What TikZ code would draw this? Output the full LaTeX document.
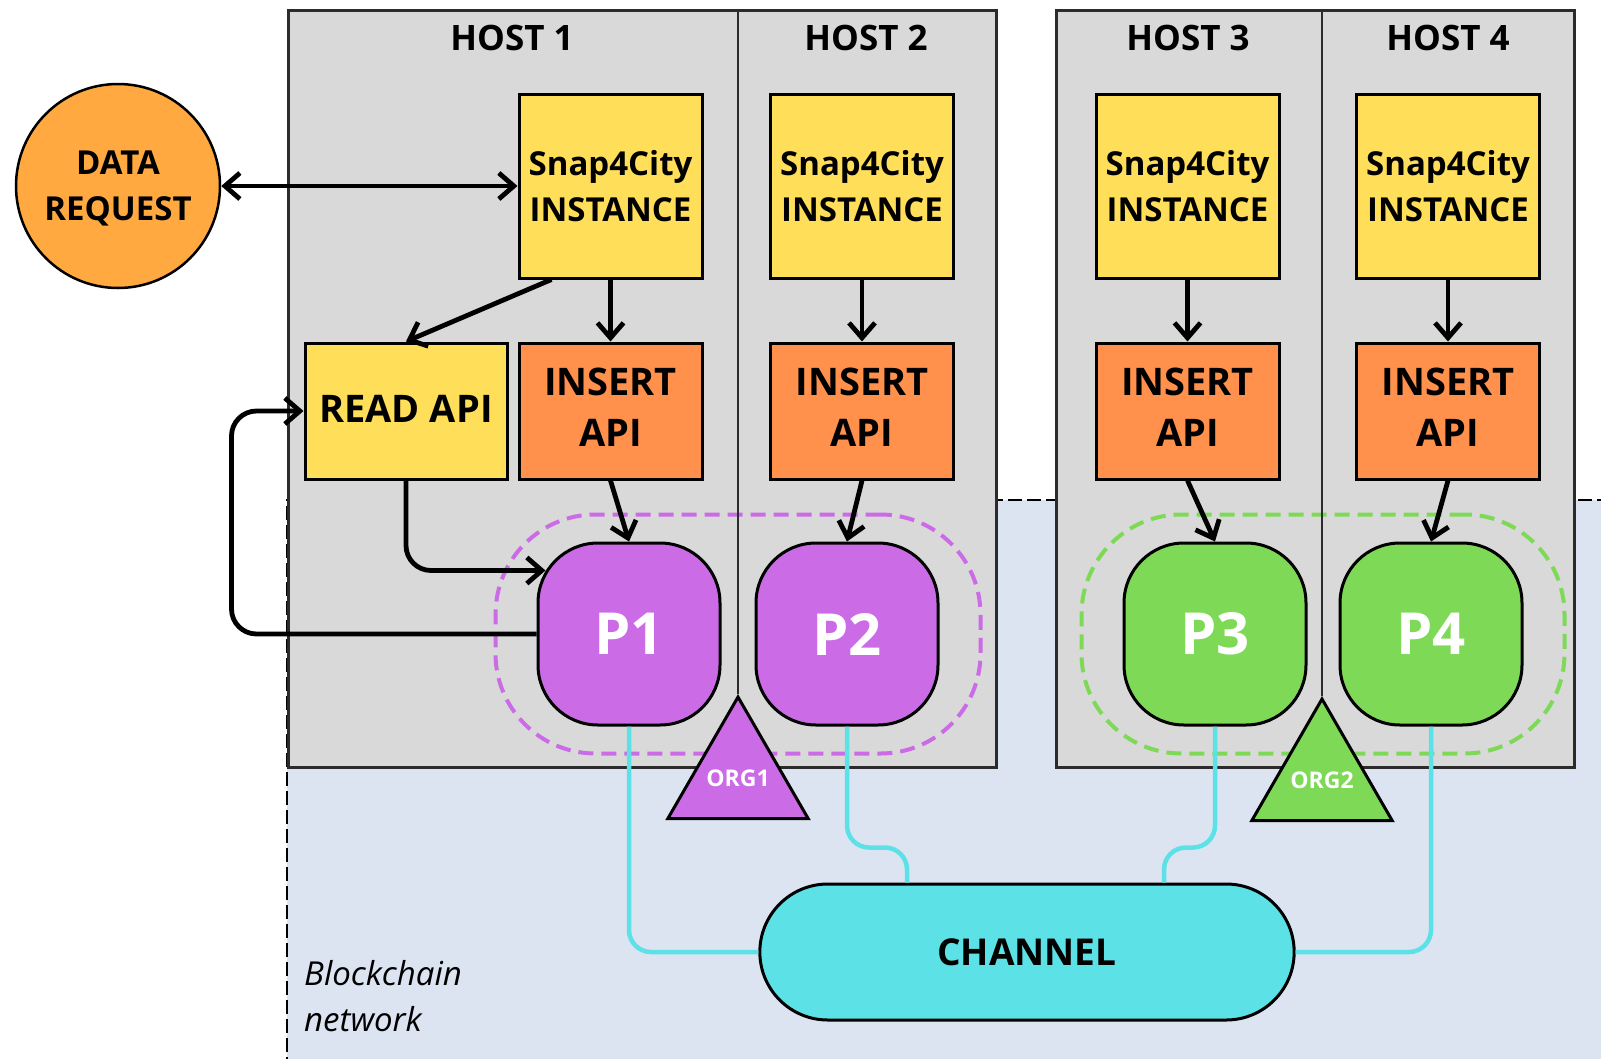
\documentclass[tikz,border=0pt]{standalone}
\usepackage{fontspec}
\setmainfont{Open Sans}
\usepackage{tikz}
\usetikzlibrary{positioning,fit,arrows.meta,shapes.geometric,shapes.misc,calc}
\definecolor{hostgray}{HTML}{D9D9D9}
\definecolor{netblue}{HTML}{DCE4F2}
\definecolor{snapyellow}{HTML}{FFDE59}
\definecolor{apiorange}{HTML}{FF914D}
\definecolor{reqorange}{HTML}{FFA940}
\definecolor{orgpurple}{HTML}{CB6CE6}
\definecolor{orggreen}{HTML}{7ED957}
\definecolor{chancyan}{HTML}{5CE1E6}
\definecolor{edgegray}{HTML}{2B2B2B}
\newcommand{\orgtext}[1]{\smash{\raisebox{-0.36em}{\makebox[0pt]{#1}}}}

\begin{document}
\begin{tikzpicture}[
    x=1pt, y=-1pt,
    font=\bfseries,
    box/.style={rectangle, draw=black, line width=3pt, align=center, inner sep=0pt, minimum width=183pt},
    snapbox/.style={box, fill=snapyellow, minimum height=184pt, font=\bfseries\fontsize{33}{46}\selectfont},
    apibox/.style={box, fill=apiorange, minimum height=136pt, text depth=8pt, font=\bfseries\fontsize{38}{51}\selectfont},
    readbox/.style={apibox, fill=snapyellow, minimum width=202pt, text depth=4pt},
    reqnode/.style={circle, draw=black, line width=2.5pt, fill=reqorange, minimum size=204pt, inner sep=0pt, align=center, text depth=0pt, font=\bfseries\fontsize{33}{46}\selectfont},
    peer/.style={rectangle, draw=black, line width=3pt, rounded corners=60pt, minimum size=182pt, text=white, font=\bfseries\fontsize{58}{60}\selectfont},
    org/.style={regular polygon, regular polygon sides=3, draw=black, line width=3pt, minimum size=162pt, inner sep=0pt, text=white, font=\bfseries\fontsize{23}{25}\selectfont},
    chan/.style={rounded rectangle, draw=black, line width=3pt, fill=chancyan, minimum width=541pt, minimum height=136pt, font=\bfseries\fontsize{37}{40}\selectfont},
    hostbox/.style={rectangle, draw=edgegray, line width=2.5pt, fill=hostgray, anchor=north west, inner sep=0pt},
    title/.style={font=\bfseries\fontsize{35}{40}\selectfont},
    envelope/.style={rectangle, line width=4pt, dash pattern=on 15pt off 8pt, rounded corners=100pt, inner xsep=41pt, inner ysep=27pt},
    arr/.style={-{Straight Barb[length=15pt, width=26pt]}, line width=4.8pt},
    twoway/.style={arr, {Straight Barb[length=15pt, width=26pt]}-{Straight Barb[length=15pt, width=26pt]}},
    wire/.style={line width=4.5pt, draw=chancyan, rounded corners=22pt},
    netedge/.style={line width=2pt, dash pattern=on 14pt off 5pt}
]
\useasboundingbox (0,0) rectangle (1601,1058);
\clip (0,0) rectangle (1601,1058);

% --- blockchain network area ---
\fill[netblue] (287,500) rectangle (1611,1068);
\draw[netedge] (1611,500) -- (287,500) -- (287,1068);
\node[font=\mdseries\itshape\fontsize{33}{46}\selectfont, align=left, anchor=west, inner sep=0pt] (netlbl) at (304,996) {Blockchain\\network};

% --- hosts ---
\node[hostbox, minimum width=708pt, minimum height=757pt] (h12) at (287,9) {};
\node[hostbox, minimum width=518pt, minimum height=757pt] (h34) at (1055,9) {};
\node[title] (t1) at (512,38) {HOST 1};
\node[title] (t2) at (866,38) {HOST 2};
\node[title] (t3) at (1188,38) {HOST 3};
\node[title] (t4) at (1448,38) {HOST 4};

% --- peers and organisation rings ---
\node[peer, fill=orgpurple] (p1) at (629,634) {P1};
\node[peer, fill=orgpurple] (p2) at (847,634) {P2};
\node[peer, fill=orggreen]  (p3) at (1215,634) {P3};
\node[peer, fill=orggreen]  (p4) at (1431,634) {P4};
\node[envelope, draw=orgpurple, fit=(p1)(p2)] (ring1) {};
\node[envelope, draw=orggreen, fit=(p3)(p4)] (ring2) {};

% --- snap4city instances and apis ---
\node[snapbox] (snap1) at (610.5,186) {Snap4City\\INSTANCE};
\node[snapbox] (snap2) at (862,186) {Snap4City\\INSTANCE};
\node[snapbox] (snap3) at (1187.5,186) {Snap4City\\INSTANCE};
\node[snapbox] (snap4) at (1448,186) {Snap4City\\INSTANCE};
\foreach \i in {1,...,4}
  \node[apibox, below=62pt of snap\i] (ins\i) {INSERT\\API};
\node[readbox, left=9pt of ins1] (read) {READ API};

\node[reqnode] (req) at (118,186) {DATA\\REQUEST};
\node[chan] (chan) at (1027,952) {CHANNEL};

% --- organisations and host dividers ---
\node[org, fill=orgpurple, anchor=north] (org1) at (738,694) {\orgtext{ORG1}};
\node[org, fill=orggreen, anchor=north] (org2) at (1322,696) {\orgtext{ORG2}};
\draw[edgegray, line width=2.5pt] (h12.north -| org1.north) -- (org1.north);
\draw[edgegray, line width=2.5pt] (h34.north -| org2.north) -- (org2.north);

% --- request flow ---
\draw[twoway] (req) -- (snap1);
\draw[arr] ([xshift=-59pt]snap1.south) -- (read.north);
\foreach \i in {1,...,4} {
  \draw[arr] (snap\i) -- (ins\i);
  \draw[arr] (ins\i.south) -- (p\i.north);
}
\draw[arr, rounded corners=25pt] (read.south) |- ([xshift=9pt, yshift=-29pt]p1.north west);
\draw[arr, rounded corners=25pt] (p1.west) -- ++(-305,0) |- (read.west);

% --- peers to channel ---
\draw[wire] (p1.south) |- (chan.west);
\draw[wire] (p2.south) -- ++(0,121) -| ([xshift=-120pt]chan.north);
\draw[wire] (p3.south) -- ++(0,121) -| ([xshift=137pt]chan.north);
\draw[wire] (p4.south) |- (chan.east);

\end{tikzpicture}
\end{document}
